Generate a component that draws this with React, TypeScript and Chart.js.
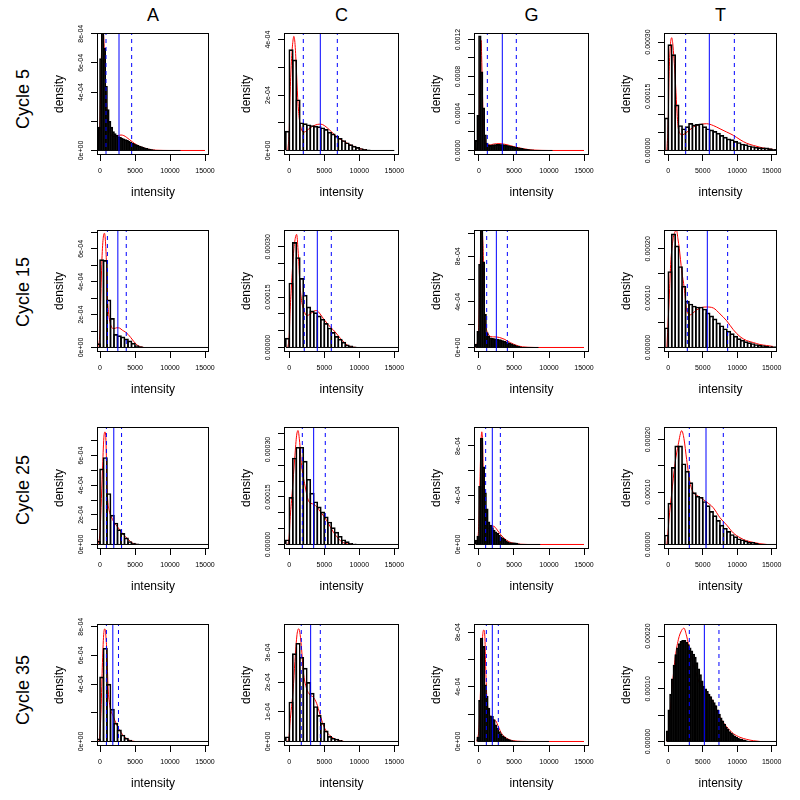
import React, { useEffect, useRef } from "react";
import { Chart, registerables } from "chart.js";

Chart.register(...registerables);

const FONT = "'Liberation Sans', Arial, Helvetica, sans-serif";

// ---------- labels ----------
const bases = ["A", "C", "G", "T"];
const cycleLabels = ["Cycle 5", "Cycle 15", "Cycle 25", "Cycle 35"];
const xTickValues = [0, 5000, 10000, 15000];
const xTickLabels = ["0", "5000", "10000", "15000"];
const xTitle = "intensity";
const yTitle = "density";

// densities below are in units of 1e-4
// lines = [dashed low, solid centre, dashed high]

// ---------- A ----------
const A5_binStart = -500;
const A5_binWidth = 250;
const A5_hist = [0.35, 1.6, 6.3, 8.6, 7.0, 4.4, 2.8, 2.0, 1.6, 1.3, 1.15, 1.05, 0.95, 0.9, 0.85, 0.8, 0.75, 0.7, 0.62, 0.55, 0.5, 0.45, 0.4, 0.35, 0.3, 0.27, 0.22, 0.18, 0.15, 0.12, 0.09, 0.07, 0.05, 0.03, 0.02, 0.01];
const A5_histEnd = 11500;
const A5_densX = [-600, -300, 0, 150, 300, 400, 500, 650, 800, 1000, 1200, 1500, 1800, 2200, 2600, 3000, 3400, 3800, 4200, 4600, 5000, 5500, 6000, 6500, 7000, 7500, 8000, 9000, 10000, 15000];
const A5_densY = [0, 0.2, 2.0, 5.5, 8.0, 8.4, 8.0, 6.5, 4.5, 2.7, 1.7, 1.15, 0.95, 0.95, 1.02, 1.06, 1.02, 0.9, 0.75, 0.6, 0.45, 0.32, 0.22, 0.14, 0.08, 0.04, 0.02, 0.005, 0, 0];
const A5_lines = [857, 2714, 4524];
const A5_yTop = 8.05;
const A5_yTicks = [0, 2, 4, 6, 8];
const A5_yLabels = ["0e+00", "", "4e-04", "6e-04", "8e-04"];

const A15_binStart = -500;
const A15_binWidth = 500;
const A15_hist = [0.23, 5.35, 5.3, 2.9, 1.77, 0.8, 0.72, 0.65, 0.52, 0.4, 0.27, 0.12, 0.05];
const A15_histEnd = 15750;
const A15_densX = [-300, 0, 100, 300, 500, 650, 800, 950, 1050, 1250, 1450, 1700, 2000, 2400, 2800, 3200, 3600, 4000, 4400, 4800, 5300, 5800, 6300];
const A15_densY = [0, 1.0, 2.8, 5.6, 6.8, 6.95, 6.3, 4.8, 3.2, 2.0, 1.5, 1.2, 1.15, 1.2, 1.18, 1.05, 0.95, 0.8, 0.6, 0.38, 0.15, 0.04, 0];
const A15_lines = [1058, 2550, 3750];
const A15_yTop = 7.15;
const A15_yTicks = [0, 1, 2, 3, 4, 5, 6, 7];
const A15_yLabels = ["0e+00", "", "2e-04", "", "4e-04", "", "6e-04", ""];

const A25_binStart = -500;
const A25_binWidth = 500;
const A25_hist = [0.22, 5.1, 5.87, 3.44, 1.98, 1.45, 1.0, 0.75, 0.45, 0.2, 0.1, 0.05];
const A25_histEnd = 15750;
const A25_densX = [-300, 0, 150, 350, 550, 700, 850, 1000, 1100, 1300, 1600, 2000, 2400, 2800, 3200, 3600, 4000, 4400, 4800, 5300];
const A25_densY = [0, 0.8, 2.5, 5.0, 7.2, 7.6, 7.0, 4.0, 3.0, 2.3, 1.9, 1.5, 1.25, 1.0, 0.75, 0.55, 0.35, 0.18, 0.06, 0];
const A25_lines = [915, 1970, 3080];
const A25_yTop = 7.93;
const A25_yTicks = [0, 1, 2, 3, 4, 5, 6, 7];
const A25_yLabels = ["0e+00", "", "2e-04", "", "4e-04", "", "6e-04", ""];

const A35_binStart = -500;
const A35_binWidth = 500;
const A35_hist = [0.19, 4.5, 6.5, 4.0, 2.26, 1.28, 0.81, 0.45, 0.23, 0.1, 0.03];
const A35_histEnd = 15750;
const A35_densX = [-200, 0, 150, 350, 550, 700, 850, 1000, 1150, 1400, 1900, 2400, 2900, 3500, 4300, 5000];
const A35_densY = [0, 0.6, 2.2, 5.5, 7.6, 7.85, 7.3, 6.0, 3.8, 2.5, 1.75, 1.15, 0.7, 0.33, 0.07, 0];
const A35_lines = [915, 1830, 2640];
const A35_yTop = 8.19;
const A35_yTicks = [0, 2, 4, 6, 8];
const A35_yLabels = ["0e+00", "", "4e-04", "6e-04", "8e-04"];

// ---------- C ----------
const C5_binStart = -500;
const C5_binWidth = 500;
const C5_hist = [0.7, 3.64, 3.27, 1.83, 1.0, 0.97, 0.93, 0.9, 0.88, 0.86, 0.82, 0.76, 0.66, 0.6, 0.52, 0.44, 0.36, 0.28, 0.21, 0.16, 0.11, 0.07, 0.04, 0.02];
const C5_histEnd = 15000;
const C5_densX = [-200, 0, 100, 300, 500, 650, 800, 1000, 1200, 1400, 1700, 2000, 2300, 2800, 3400, 4000, 4500, 5000, 5500, 6000, 6500, 7000, 7500, 8000, 8500, 9000, 9500, 10000, 10500, 11000];
const C5_densY = [0, 0.8, 1.9, 3.2, 3.9, 4.12, 3.9, 3.0, 1.9, 1.2, 0.8, 0.66, 0.68, 0.78, 0.88, 0.94, 0.95, 0.9, 0.8, 0.68, 0.56, 0.45, 0.37, 0.3, 0.23, 0.17, 0.12, 0.07, 0.04, 0.01];
const C5_lines = [2000, 4430, 6860];
const C5_yTop = 4.24;
const C5_yTicks = [0, 1, 2, 3, 4];
const C5_yLabels = ["0e+00", "", "2e-04", "", "4e-04"];

const C15_binStart = -500;
const C15_binWidth = 500;
const C15_hist = [0.28, 1.92, 3.13, 2.68, 2.06, 1.56, 1.21, 1.09, 1.04, 0.94, 0.84, 0.72, 0.58, 0.45, 0.33, 0.25, 0.16, 0.08, 0.05, 0.02];
const C15_histEnd = 15750;
const C15_densX = [-200, 0, 100, 300, 600, 850, 1050, 1250, 1500, 1750, 2100, 2500, 3000, 3500, 3900, 4400, 4900, 5400, 5900, 6300, 6800, 7300, 7800, 8300, 8900, 9500];
const C15_densY = [0, 0.4, 1.0, 1.8, 2.8, 3.25, 3.37, 2.9, 1.95, 1.4, 1.1, 0.95, 1.0, 1.08, 1.1, 1.0, 0.85, 0.72, 0.6, 0.52, 0.4, 0.27, 0.16, 0.07, 0.02, 0];
const C15_lines = [2140, 4000, 6000];
const C15_yTop = 3.5;
const C15_yTicks = [0, 0.5, 1, 1.5, 2, 2.5, 3];
const C15_yLabels = ["0.00000", "", "", "0.00015", "", "", "0.00030"];

const C25_binStart = -500;
const C25_binWidth = 500;
const C25_hist = [0.15, 1.49, 2.73, 3.07, 3.07, 2.63, 2.06, 1.62, 1.35, 1.19, 1.03, 0.87, 0.71, 0.53, 0.39, 0.26, 0.15, 0.09, 0.04, 0.02];
const C25_histEnd = 15750;
const C25_densX = [-200, 0, 100, 400, 800, 1050, 1250, 1450, 1750, 2250, 2700, 3100, 3500, 4000, 4400, 4900, 5300, 5800, 6300, 6800, 7300, 7800, 8300, 9000];
const C25_densY = [0, 0.3, 0.75, 1.6, 2.8, 3.45, 3.6, 3.3, 2.5, 1.85, 1.4, 1.3, 1.27, 1.17, 1.05, 0.9, 0.77, 0.58, 0.39, 0.24, 0.12, 0.05, 0.02, 0];
const C25_lines = [1860, 3480, 5140];
const C25_yTop = 3.71;
const C25_yTicks = [0, 0.5, 1, 1.5, 2, 2.5, 3, 3.5];
const C25_yLabels = ["0.00000", "", "", "0.00015", "", "", "0.00030", ""];

const C35_binStart = -500;
const C35_binWidth = 500;
const C35_hist = [0.16, 1.33, 2.96, 3.31, 2.84, 2.47, 1.99, 1.63, 1.18, 0.88, 0.62, 0.36, 0.17, 0.11, 0.08, 0.04];
const C35_histEnd = 15750;
const C35_densX = [-200, 0, 100, 550, 800, 1100, 1350, 1550, 1760, 2000, 2450, 2950, 3400, 3900, 4400, 4850, 5300, 5800, 6300, 6800, 7300, 7800];
const C35_densY = [0, 0.25, 0.62, 1.74, 2.7, 3.6, 3.8, 3.6, 3.1, 2.36, 1.8, 1.57, 1.5, 1.29, 0.9, 0.56, 0.34, 0.2, 0.11, 0.06, 0.03, 0];
const C35_lines = [1710, 3050, 4430];
const C35_yTop = 3.96;
const C35_yTicks = [0, 1, 2, 3];
const C35_yLabels = ["0e+00", "1e-04", "2e-04", "3e-04"];

// ---------- G ----------
const G5_binStart = -750;
const G5_binWidth = 250;
const G5_hist = [0.25, 1.1, 3.8, 12.4, 8.5, 4.6, 1.7, 0.8, 0.6, 0.55, 0.6, 0.62, 0.65, 0.66, 0.66, 0.65, 0.63, 0.6, 0.57, 0.53, 0.5, 0.46, 0.42, 0.37, 0.33, 0.29, 0.25, 0.22, 0.19, 0.16, 0.13, 0.1, 0.08, 0.06, 0.04, 0.03, 0.02, 0.01];
const G5_histEnd = 10500;
const G5_densX = [-500, -200, 0, 100, 200, 300, 400, 500, 600, 750, 900, 1200, 1600, 2000, 2500, 3000, 3500, 4000, 4500, 5000, 5500, 6000, 6500, 7000, 7500, 8000, 9000, 10000, 15000];
const G5_densY = [0, 0.5, 2.5, 6.0, 10.5, 11.9, 9.5, 6.0, 3.5, 1.8, 1.0, 0.6, 0.6, 0.68, 0.73, 0.74, 0.7, 0.62, 0.52, 0.42, 0.32, 0.24, 0.17, 0.11, 0.07, 0.04, 0.01, 0, 0];
const G5_lines = [1190, 3330, 5330];
const G5_yTop = 12.7;
const G5_yTicks = [0, 2, 4, 6, 8, 10, 12];
const G5_yLabels = ["0.0000", "", "0.0004", "", "0.0008", "", "0.0012"];

const G15_binStart = -500;
const G15_binWidth = 250;
const G15_hist = [0.3, 1.42, 7.3, 10.8, 7.5, 2.9, 1.3, 1.0, 0.85, 0.8, 0.78, 0.76, 0.73, 0.7, 0.66, 0.6, 0.55, 0.5, 0.44, 0.38, 0.32, 0.26, 0.2, 0.14, 0.09, 0.05, 0.03];
const G15_histEnd = 8500;
const G15_densX = [-500, -200, 0, 150, 300, 400, 500, 600, 700, 800, 1000, 1300, 1700, 2100, 2500, 2900, 3300, 3700, 4100, 4500, 4900, 5300, 5700, 6200, 7000, 8000, 15000];
const G15_densY = [0, 0.6, 2.5, 6.5, 9.8, 10.4, 9.9, 8.4, 5.0, 3.0, 1.8, 1.2, 0.95, 0.93, 0.92, 0.88, 0.8, 0.7, 0.55, 0.42, 0.3, 0.2, 0.12, 0.06, 0.02, 0, 0];
const G15_lines = [1100, 2480, 4050];
const G15_yTop = 10.3;
const G15_yTicks = [0, 2, 4, 6, 8, 10];
const G15_yLabels = ["0e+00", "", "4e-04", "", "8e-04", ""];

const G25_binStart = -500;
const G25_binWidth = 250;
const G25_hist = [0.35, 0.68, 4.73, 8.65, 6.3, 4.2, 2.9, 1.84, 1.57, 1.38, 1.16, 1.03, 0.9, 0.76, 0.62, 0.54, 0.41, 0.3, 0.2, 0.16, 0.14, 0.13, 0.13, 0.12, 0.06, 0.03];
const G25_histEnd = 8750;
const G25_densX = [-400, -150, 0, 150, 300, 400, 500, 600, 700, 850, 1000, 1300, 1700, 2000, 2300, 2700, 3100, 3500, 3900, 4300, 4800, 5300, 6000, 7000, 15000];
const G25_densY = [0, 0.5, 2.0, 5.5, 8.5, 9.15, 8.5, 6.0, 3.8, 2.4, 1.6, 1.3, 1.45, 1.5, 1.4, 1.1, 0.8, 0.55, 0.36, 0.22, 0.12, 0.06, 0.02, 0, 0];
const G25_lines = [950, 1900, 3050];
const G25_yTop = 9.54;
const G25_yTicks = [0, 2, 4, 6, 8];
const G25_yLabels = ["0e+00", "", "4e-04", "", "8e-04"];

const G35_binStart = -250;
const G35_binWidth = 250;
const G35_hist = [0.32, 3.0, 7.56, 6.95, 4.15, 3.3, 2.44, 1.88, 1.83, 1.6, 1.22, 0.98, 0.73, 0.56, 0.41, 0.32, 0.22, 0.17, 0.12, 0.07, 0.05];
const G35_histEnd = 10000;
const G35_densX = [-300, 0, 200, 400, 550, 700, 850, 950, 1100, 1300, 1600, 2000, 2400, 2800, 3200, 3600, 4000, 4500, 5000, 6000, 7000, 15000];
const G35_densY = [0, 1.0, 3.5, 6.5, 7.9, 8.15, 7.5, 5.5, 3.4, 2.3, 1.85, 1.6, 1.5, 1.05, 0.6, 0.38, 0.22, 0.1, 0.05, 0.01, 0, 0];
const G35_lines = [1050, 1900, 2760];
const G35_yTop = 8.59;
const G35_yTicks = [0, 2, 4, 6, 8];
const G35_yLabels = ["0e+00", "", "4e-04", "", "8e-04"];

// ---------- T ----------
const T5_binStart = -500;
const T5_binWidth = 500;
const T5_hist = [0.9, 2.93, 2.65, 1.26, 0.69, 0.6, 0.66, 0.75, 0.71, 0.72, 0.74, 0.66, 0.6, 0.57, 0.53, 0.48, 0.42, 0.37, 0.32, 0.3, 0.25, 0.22, 0.18, 0.16, 0.13, 0.11, 0.09, 0.08, 0.07, 0.07, 0.05, 0.03, 0.02];
const T5_histEnd = 16000;
const T5_densX = [-200, 0, 100, 300, 500, 650, 820, 1020, 1210, 1400, 1700, 1940, 2660, 3630, 4600, 5560, 6530, 7500, 8470, 9430, 10400, 11370, 12340, 13300, 14270, 15240];
const T5_densY = [0, 0.9, 2.0, 2.9, 3.12, 2.95, 2.54, 1.94, 1.25, 0.69, 0.47, 0.43, 0.5, 0.65, 0.72, 0.74, 0.69, 0.6, 0.51, 0.42, 0.3, 0.2, 0.14, 0.09, 0.05, 0.03];
const T5_lines = [2520, 5950, 9580];
const T5_yTop = 3.25;
const T5_yTicks = [0, 0.5, 1, 1.5, 2, 2.5, 3];
const T5_yLabels = ["0.00000", "", "", "0.00015", "", "", "0.00030"];

const T15_binStart = -500;
const T15_binWidth = 500;
const T15_hist = [0.4, 1.54, 2.3, 2.06, 1.64, 1.24, 0.94, 0.88, 0.84, 0.82, 0.82, 0.78, 0.7, 0.64, 0.58, 0.5, 0.44, 0.38, 0.33, 0.28, 0.23, 0.18, 0.15, 0.12, 0.1, 0.08, 0.06, 0.05, 0.04, 0.03, 0.02, 0.02];
const T15_histEnd = 16000;
const T15_densX = [-200, 0, 100, 340, 700, 1000, 1200, 1400, 1600, 1940, 2320, 2660, 2900, 3150, 3600, 4110, 4800, 5560, 6530, 7500, 8470, 9430, 10400, 11370, 12340, 13300, 14270, 15240];
const T15_densY = [0, 0.6, 0.88, 1.68, 2.2, 2.35, 2.37, 2.2, 2.0, 1.56, 1.2, 0.76, 0.68, 0.66, 0.7, 0.76, 0.81, 0.82, 0.8, 0.68, 0.54, 0.36, 0.22, 0.14, 0.1, 0.06, 0.04, 0.02];
const T15_lines = [2760, 5660, 8610];
const T15_yTop = 2.38;
const T15_yTicks = [0, 0.5, 1, 1.5, 2];
const T15_yLabels = ["0.00000", "", "0.00010", "", "0.00020"];

const T25_binStart = -500;
const T25_binWidth = 500;
const T25_hist = [0.18, 0.79, 1.47, 1.88, 1.88, 1.54, 1.4, 1.18, 0.99, 0.92, 0.9, 0.82, 0.74, 0.63, 0.55, 0.46, 0.37, 0.31, 0.25, 0.19, 0.15, 0.11, 0.09, 0.07, 0.04, 0.04, 0.02];
const T25_histEnd = 16000;
const T25_densX = [-200, 0, 100, 480, 970, 1450, 1940, 2270, 2660, 3150, 3630, 4110, 4600, 5560, 6530, 7500, 8470, 9430, 10400, 11370, 12340, 13300, 14300];
const T25_densY = [0, 0.3, 0.48, 0.96, 1.54, 1.91, 2.17, 2.02, 1.62, 1.18, 0.99, 0.94, 0.9, 0.81, 0.7, 0.51, 0.37, 0.22, 0.13, 0.07, 0.04, 0.015, 0];
const T25_lines = [3050, 5470, 7980];
const T25_yTop = 2.24;
const T25_yTicks = [0, 0.5, 1, 1.5, 2];
const T25_yLabels = ["0.00000", "", "0.00010", "", "0.00020"];

const T35_binStart = -250;
const T35_binWidth = 250;
const T35_hist = [0.2, 0.6, 0.9, 1.19, 1.45, 1.65, 1.78, 1.86, 1.9, 1.92, 1.92, 1.88, 1.84, 1.78, 1.72, 1.66, 1.6, 1.5, 1.38, 1.27, 1.15, 1.05, 1.0, 0.95, 0.9, 0.85, 0.79, 0.74, 0.68, 0.6, 0.52, 0.45, 0.39, 0.33, 0.27, 0.23, 0.19, 0.16, 0.13, 0.1, 0.08, 0.06, 0.05, 0.04, 0.03, 0.02, 0.01];
const T35_histEnd = 16000;
const T35_densX = [-200, 0, 100, 480, 970, 1450, 1940, 2270, 2660, 3150, 3630, 4110, 4600, 5000, 5560, 6530, 7500, 8470, 9430, 10400, 11370, 12340, 13300];
const T35_densY = [0, 0.2, 0.32, 0.9, 1.56, 1.93, 2.11, 2.15, 2.0, 1.71, 1.45, 1.27, 1.08, 1.03, 0.94, 0.75, 0.46, 0.28, 0.15, 0.08, 0.04, 0.015, 0];
const T35_lines = [3050, 5230, 7350];
const T35_yTop = 2.23;
const T35_yTicks = [0, 0.5, 1, 1.5, 2];
const T35_yLabels = ["0.00000", "", "0.00010", "", "0.00020"];

// ---------- layout (pixels / axis extents) ----------
const COL_BOX_LEFT = [97, 284, 474, 664];
const COL_BOX_W = [112, 115, 115, 113];
const COL_X_MIN = [-429, -757, -714, -624];
const COL_X_MAX = [15571, 15671, 15714, 15770];
const ROW_BOX_TOP = [33, 230, 427, 624];
const ROW_LABEL_Y = [99, 292, 490, 690];
const BOX_H = 122;
const AXIS_W = 50;
const AXIS_H = 46;
const PAD_T = 14;
const PAD_R = 18;
const TICK_LEN = 6;
const TICK_SIZE = 7;
const Y_LABEL_CENTER = 15.5;

type Spec = {
  binStart: number; binWidth: number; hist: number[]; histEnd: number;
  densX: number[]; densY: number[]; lines: number[];
  yTop: number; yTicks: number[]; yLabels: string[];
};

function mk(binStart: number, binWidth: number, hist: number[], histEnd: number, densX: number[], densY: number[],
  lines: number[], yTop: number, yTicks: number[], yLabels: string[]): Spec {
  return { binStart, binWidth, hist, histEnd, densX, densY, lines, yTop, yTicks, yLabels };
}

// grid[row][col]
const grid: Spec[][] = [
  [
    mk(A5_binStart, A5_binWidth, A5_hist, A5_histEnd, A5_densX, A5_densY, A5_lines, A5_yTop, A5_yTicks, A5_yLabels),
    mk(C5_binStart, C5_binWidth, C5_hist, C5_histEnd, C5_densX, C5_densY, C5_lines, C5_yTop, C5_yTicks, C5_yLabels),
    mk(G5_binStart, G5_binWidth, G5_hist, G5_histEnd, G5_densX, G5_densY, G5_lines, G5_yTop, G5_yTicks, G5_yLabels),
    mk(T5_binStart, T5_binWidth, T5_hist, T5_histEnd, T5_densX, T5_densY, T5_lines, T5_yTop, T5_yTicks, T5_yLabels),
  ],
  [
    mk(A15_binStart, A15_binWidth, A15_hist, A15_histEnd, A15_densX, A15_densY, A15_lines, A15_yTop, A15_yTicks, A15_yLabels),
    mk(C15_binStart, C15_binWidth, C15_hist, C15_histEnd, C15_densX, C15_densY, C15_lines, C15_yTop, C15_yTicks, C15_yLabels),
    mk(G15_binStart, G15_binWidth, G15_hist, G15_histEnd, G15_densX, G15_densY, G15_lines, G15_yTop, G15_yTicks, G15_yLabels),
    mk(T15_binStart, T15_binWidth, T15_hist, T15_histEnd, T15_densX, T15_densY, T15_lines, T15_yTop, T15_yTicks, T15_yLabels),
  ],
  [
    mk(A25_binStart, A25_binWidth, A25_hist, A25_histEnd, A25_densX, A25_densY, A25_lines, A25_yTop, A25_yTicks, A25_yLabels),
    mk(C25_binStart, C25_binWidth, C25_hist, C25_histEnd, C25_densX, C25_densY, C25_lines, C25_yTop, C25_yTicks, C25_yLabels),
    mk(G25_binStart, G25_binWidth, G25_hist, G25_histEnd, G25_densX, G25_densY, G25_lines, G25_yTop, G25_yTicks, G25_yLabels),
    mk(T25_binStart, T25_binWidth, T25_hist, T25_histEnd, T25_densX, T25_densY, T25_lines, T25_yTop, T25_yTicks, T25_yLabels),
  ],
  [
    mk(A35_binStart, A35_binWidth, A35_hist, A35_histEnd, A35_densX, A35_densY, A35_lines, A35_yTop, A35_yTicks, A35_yLabels),
    mk(C35_binStart, C35_binWidth, C35_hist, C35_histEnd, C35_densX, C35_densY, C35_lines, C35_yTop, C35_yTicks, C35_yLabels),
    mk(G35_binStart, G35_binWidth, G35_hist, G35_histEnd, G35_densX, G35_densY, G35_lines, G35_yTop, G35_yTicks, G35_yLabels),
    mk(T35_binStart, T35_binWidth, T35_hist, T35_histEnd, T35_densX, T35_densY, T35_lines, T35_yTop, T35_yTicks, T35_yLabels),
  ],
];

const boxPlugin = {
  id: "plotBox",
  afterDatasetsDraw(chart: any) {
    const { ctx, chartArea: a } = chart;
    ctx.save();
    ctx.strokeStyle = "#000";
    ctx.lineWidth = 1;
    ctx.setLineDash([]);
    ctx.strokeRect(
      Math.round(a.left) + 0.5,
      Math.round(a.top) + 0.5,
      Math.round(a.right - a.left) - 1,
      Math.round(a.bottom - a.top) - 1
    );
    ctx.restore();
  },
};

function Panel({ spec, row, col }: { spec: Spec; row: number; col: number }) {
  const ref = useRef<HTMLCanvasElement>(null);
  const boxW = COL_BOX_W[col];
  const cw = boxW + AXIS_W + PAD_R;
  const ch = BOX_H + PAD_T + AXIS_H;
  const left = COL_BOX_LEFT[col] - AXIS_W;
  const top = ROW_BOX_TOP[row] - PAD_T;

  useEffect(() => {
    const canvas = ref.current;
    if (!canvas) return;
    const xMin = COL_X_MIN[col];
    const xMax = COL_X_MAX[col];
    const yMax = spec.yTop;
    const yMin = (-spec.yTop * 0.04) / 1.04;
    const barPx = (spec.binWidth * boxW) / (xMax - xMin) + 1;

    const bars = spec.hist.map((v, i) => ({ x: spec.binStart + spec.binWidth * (i + 0.5), y: v }));
    const dens = spec.densX.map((x, i) => ({ x, y: spec.densY[i] }));

    const mctx = document.createElement("canvas").getContext("2d") as CanvasRenderingContext2D;
    mctx.font = `${TICK_SIZE}px ${FONT}`;
    const widest = Math.max(0, ...spec.yLabels.map((s) => mctx.measureText(s).width));
    const yPad = Y_LABEL_CENTER - TICK_LEN - widest / 2;

    const vline = (v: number, dashed: boolean) => ({
      type: "line",
      data: [{ x: v, y: yMin }, { x: v, y: yMax }],
      borderColor: "#0000ff",
      borderWidth: 1,
      borderDash: dashed ? [4, 4] : [],
      pointRadius: 0,
      fill: false,
      order: 1,
      clip: 0,
    });

    const gridOpts = {
      display: true,
      drawOnChartArea: false,
      drawTicks: true,
      tickLength: TICK_LEN,
      color: "#000",
      lineWidth: 1,
      offset: false,
    };

    const chart = new Chart(canvas, {
      type: "bar",
      data: {
        datasets: [
          vline(spec.lines[0], true),
          vline(spec.lines[1], false),
          vline(spec.lines[2], true),
          {
            type: "line",
            data: [{ x: spec.binStart, y: 0 }, { x: spec.histEnd, y: 0 }],
            borderColor: "#000",
            borderWidth: 1,
            pointRadius: 0,
            fill: false,
            order: 2,
            clip: 0,
          },
          {
            type: "bar",
            data: bars,
            backgroundColor: "rgba(255,255,255,0)",
            borderColor: "#000",
            borderWidth: 1,
            barThickness: barPx,
            grouped: false,
            order: 3,
            clip: 0,
          },
          {
            type: "line",
            data: dens,
            borderColor: "#ff0000",
            borderWidth: 1,
            pointRadius: 0,
            fill: false,
            cubicInterpolationMode: "monotone",
            order: 4,
            clip: 0,
          },
        ],
      } as any,
      options: {
        animation: false,
        responsive: false,
        maintainAspectRatio: false,
        events: [],
        layout: { padding: { left: 0, top: PAD_T, right: PAD_R, bottom: 0 } },
        plugins: { legend: { display: false }, tooltip: { enabled: false }, title: { display: false } },
        scales: {
          x: {
            type: "linear",
            min: xMin,
            max: xMax,
            bounds: "data",
            offset: false,
            grid: gridOpts,
            border: { display: false },
            afterBuildTicks: (s: any) => {
              s.ticks = xTickValues.map((v) => ({ value: v }));
            },
            afterFit: (s: any) => {
              s.height = AXIS_H;
            },
            ticks: {
              autoSkip: false,
              maxRotation: 0,
              minRotation: 0,
              padding: 5.8,
              color: "#000",
              font: { family: FONT, size: TICK_SIZE },
              callback: (_v: any, i: number) => xTickLabels[i],
            },
            title: {
              display: true,
              text: xTitle,
              color: "#000",
              font: { family: FONT, size: 12 },
              padding: { top: 0, bottom: 1.4 },
            },
          },
          y: {
            type: "linear",
            min: yMin,
            max: yMax,
            bounds: "data",
            grid: gridOpts,
            border: { display: false },
            afterBuildTicks: (s: any) => {
              s.ticks = spec.yTicks.map((v) => ({ value: v }));
            },
            afterFit: (s: any) => {
              s.width = AXIS_W;
            },
            ticks: {
              autoSkip: false,
              minRotation: 90,
              maxRotation: 90,
              crossAlign: "center",
              padding: yPad,
              color: "#000",
              font: { family: FONT, size: TICK_SIZE },
              callback: (_v: any, i: number) => spec.yLabels[i],
            },
            title: {
              display: true,
              text: yTitle,
              color: "#000",
              font: { family: FONT, size: 12 },
              padding: { top: 5.8, bottom: 0 },
            },
          },
        },
      } as any,
      plugins: [boxPlugin],
    });
    return () => chart.destroy();
  }, [spec, row, col]);

  return (
    <canvas
      ref={ref}
      width={cw}
      height={ch}
      style={{ position: "absolute", left, top, width: cw, height: ch }}
    />
  );
}

export default function App() {
  return (
    <div
      style={{
        position: "absolute",
        left: 0,
        top: 0,
        width: 800,
        height: 800,
        background: "#fff",
        overflow: "hidden",
        fontFamily: FONT,
        color: "#000",
      }}
    >
      {bases.map((b, c) => (
        <div
          key={"t" + b}
          style={{
            position: "absolute",
            left: COL_BOX_LEFT[c],
            width: COL_BOX_W[c],
            top: 5.7,
            fontSize: 18,
            lineHeight: "18px",
            textAlign: "center",
          }}
        >
          {b}
        </div>
      ))}
      {cycleLabels.map((t, r) => (
        <div
          key={"r" + t}
          style={{
            position: "absolute",
            left: 22.5,
            top: ROW_LABEL_Y[r],
            fontSize: 18,
            lineHeight: "18px",
            whiteSpace: "nowrap",
            transform: "translate(-50%, -50%) rotate(-90deg)",
          }}
        >
          {t}
        </div>
      ))}
      {grid.map((rowSpecs, r) =>
        rowSpecs.map((spec, c) => <Panel key={r + "-" + c} spec={spec} row={r} col={c} />)
      )}
    </div>
  );
}
